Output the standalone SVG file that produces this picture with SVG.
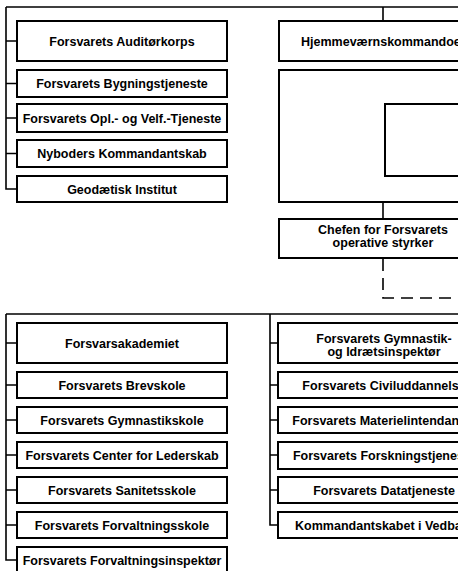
<svg xmlns="http://www.w3.org/2000/svg" width="458" height="571" viewBox="0 0 458 571">
<style>
.b{fill:#fff;stroke:#000;stroke-width:2}
.c{fill:none;stroke:#000;stroke-width:1.6}
.d{fill:none;stroke:#000;stroke-width:1.6;stroke-dasharray:12 7}
text{font-family:"Liberation Sans",Arial,sans-serif;font-weight:bold;font-size:12.5px;fill:#000;text-anchor:middle}
</style>
<rect width="458" height="571" fill="#fff"/>
<g id="connectors">
<path class="c" d="M6,7H458M6,7V189H17M6,41H17M6,83.5H17M6,118H17M6,153.5H17"/>
<path class="c" d="M383,7V21M383,202V219"/>
<path class="d" d="M383,259V298H458"/>
<path class="c" d="M6,314H458M6,314V560H17M6,343H17M6,385H17M6,420H17M6,455H17M6,490H17M6,525H17"/>
<path class="c" d="M270,314V525H278M270,343H278M270,385H278M270,420H278M270,455H278M270,490H278"/>
</g>
<g id="n1"><rect class="b" x="17" y="21" width="210" height="40"/><text x="122" y="45.5">Forsvarets Auditørkorps</text></g>
<g id="n2"><rect class="b" x="17" y="70" width="210" height="27"/><text x="122" y="88">Forsvarets Bygningstjeneste</text></g>
<g id="n3"><rect class="b" x="17" y="104" width="210" height="28"/><text x="122" y="122.5">Forsvarets Opl.- og Velf.-Tjeneste</text></g>
<g id="n4"><rect class="b" x="17" y="140" width="210" height="27"/><text x="122" y="158">Nyboders Kommandantskab</text></g>
<g id="n5"><rect class="b" x="17" y="176" width="210" height="26"/><text x="122" y="193.5">Geodætisk Institut</text></g>
<g id="n6"><rect class="b" x="279" y="21" width="210" height="40"/><text x="383" y="45.5">Hjemmeværnskommandoet</text></g>
<g id="n7"><rect class="b" x="279" y="70" width="210" height="132" stroke-width="2.4"/><rect class="b" x="385" y="104" width="120" height="72" stroke-width="2.4"/></g>
<g id="n8"><rect class="b" x="279" y="219" width="210" height="39"/><text x="383" y="234">Chefen for Forsvarets</text><text x="383" y="247">operative styrker</text></g>
<g id="n9"><rect class="b" x="17" y="323" width="210" height="40"/><text x="122" y="347.5">Forsvarsakademiet</text></g>
<g id="n10"><rect class="b" x="17" y="372" width="210" height="26"/><text x="122" y="389.5">Forsvarets Brevskole</text></g>
<g id="n11"><rect class="b" x="17" y="407" width="210" height="26"/><text x="122" y="424.5">Forsvarets Gymnastikskole</text></g>
<g id="n12"><rect class="b" x="17" y="442" width="210" height="26"/><text x="122" y="459.5">Forsvarets Center for Lederskab</text></g>
<g id="n13"><rect class="b" x="17" y="477" width="210" height="26"/><text x="122" y="494.5">Forsvarets Sanitetsskole</text></g>
<g id="n14"><rect class="b" x="17" y="512" width="210" height="26"/><text x="122" y="529.5">Forsvarets Forvaltningsskole</text></g>
<g id="n15"><rect class="b" x="17" y="547" width="210" height="30"/><text x="122" y="564.5">Forsvarets Forvaltningsinspektør</text></g>
<g id="n16"><rect class="b" x="278" y="323" width="212" height="40"/><text x="384" y="343">Forsvarets Gymnastik-</text><text x="384" y="355.5">og Idrætsinspektør</text></g>
<g id="n17"><rect class="b" x="278" y="372" width="212" height="26"/><text x="384" y="389.5">Forsvarets Civiluddannelse</text></g>
<g id="n18"><rect class="b" x="278" y="407" width="212" height="26"/><text x="384" y="424.5">Forsvarets Materielintendantur</text></g>
<g id="n19"><rect class="b" x="278" y="442" width="212" height="27"/><text x="384" y="459.5">Forsvarets Forskningstjeneste</text></g>
<g id="n20"><rect class="b" x="278" y="477" width="212" height="26"/><text x="384" y="494.5">Forsvarets Datatjeneste</text></g>
<g id="n21"><rect class="b" x="278" y="512" width="212" height="26"/><text x="384" y="529.5">Kommandantskabet i Vedbæk</text></g>
</svg>
